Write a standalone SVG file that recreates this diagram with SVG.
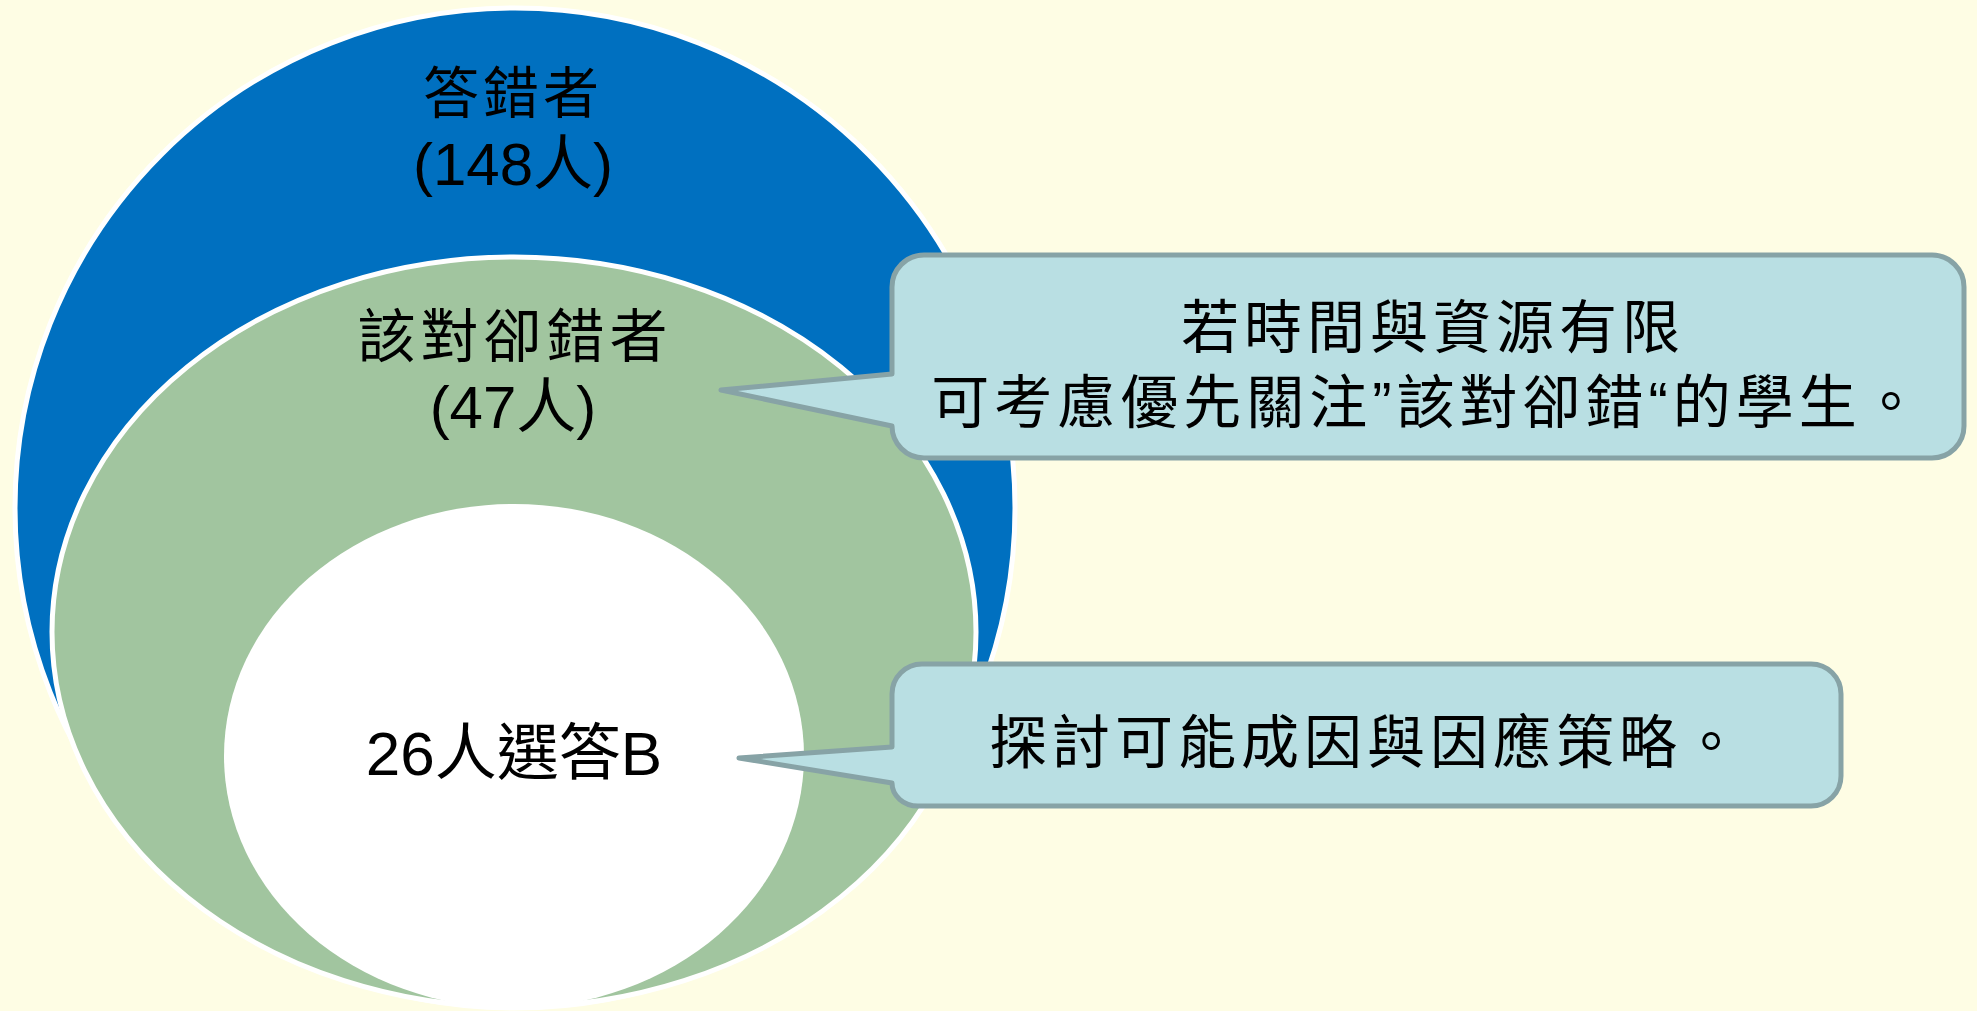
<svg xmlns="http://www.w3.org/2000/svg" width="1977" height="1011" viewBox="0 0 1977 1011">
<style>
.ring{stroke:#FFFFFF;stroke-width:5}
.callout{fill:#B9DFE3;stroke:#87A3A6;stroke-width:5;stroke-linejoin:round}
.cjk{font-family:"Liberation Sans","Noto Sans CJK TC",sans-serif;fill:#000000;text-anchor:middle}
.lbl{font-size:58px;letter-spacing:5px}
.num{font-size:60px}
</style>
<rect x="0" y="0" width="1977" height="1011" fill="#FEFDE4"/>
<g id="outer">
<ellipse class="ring" cx="515" cy="508" rx="500" ry="500" fill="#0070C0"/>
<text class="cjk" x="513" y="113" style="font-size:56px;letter-spacing:4px">答錯者</text>
<text class="cjk num" x="513" y="185">(148人)</text>
</g>
<g id="middle">
<ellipse class="ring" cx="514" cy="632" rx="462" ry="375" fill="#A1C59F"/>
<text class="cjk lbl" x="515" y="357">該對卻錯者</text>
<text class="cjk num" x="513" y="428">(47人)</text>
</g>
<g id="inner">
<ellipse cx="514" cy="756" rx="290" ry="252" fill="#FFFFFF"/>
<text class="cjk" x="514" y="775" style="font-size:62px">26人選答B</text>
</g>
<g id="callout1">
<path class="callout" d="M 924 255 H 1932 A 32 32 0 0 1 1964 287 V 426 A 32 32 0 0 1 1932 458 H 924 A 32 32 0 0 1 892 426 L 721 390 L 892 374 V 287 A 32 32 0 0 1 924 255 Z"/>
<text class="cjk lbl" x="1433" y="348">若時間與資源有限</text>
<text class="cjk lbl" x="1428" y="423">可考慮優先關注”該對卻錯“的學生。</text>
</g>
<g id="callout2">
<path class="callout" d="M 922 664 H 1811 A 30 30 0 0 1 1841 694 V 776 A 30 30 0 0 1 1811 806 H 918 A 26 23 0 0 1 892 783 L 739 758 L 892 747 V 694 A 30 30 0 0 1 922 664 Z"/>
<text class="cjk lbl" x="1367" y="763">探討可能成因與因應策略。</text>
</g>
</svg>
